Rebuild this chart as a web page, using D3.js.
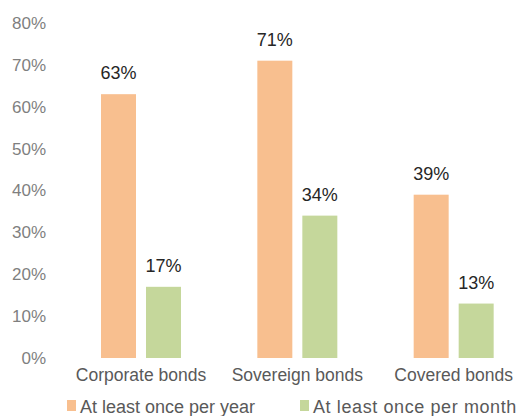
<!DOCTYPE html>
<html><head><meta charset="utf-8">
<script src="https://cdn.jsdelivr.net/npm/d3@7"></script>
<style>body{margin:0;background:#fff;}svg{display:block;font-family:"Liberation Sans",Arial,sans-serif;}</style>
</head><body>
<svg id="c" width="517" height="416"></svg>
<script>
const categories = ["Corporate bonds", "Sovereign bonds", "Covered bonds"];
const seriesNames = ["At least once per year", "At least once per month"];
const yearly = [63, 71, 39];
const monthly = [17, 34, 13];
const yTicks = [0, 10, 20, 30, 40, 50, 60, 70, 80];
const colors = ["#F8BF8F", "#C5D79B"];

const svg = d3.select("#c");
const y = d3.scaleLinear().domain([0, 80]).range([358, 23]);
const x = d3.scaleBand().domain(categories).range([63, 532]).padding(0);
const xi = d3.scaleBand().domain(seriesNames).range([38, 118]).paddingInner(10/45).paddingOuter(0);
const values = [yearly, monthly];

const yAxis = d3.axisLeft(y).tickValues(yTicks).tickFormat(d => d + "%").tickSize(0).tickPadding(0);
const ga = svg.append("g").attr("transform", "translate(46,0)").call(yAxis);
ga.select(".domain").remove();
ga.selectAll("text").attr("fill", "#7f7f7f").attr("font-size", 17).attr("font-family", "'Liberation Sans',Arial,sans-serif");

const groups = svg.selectAll("g.grp").data(categories).enter().append("g")
  .attr("class", "grp").attr("transform", d => `translate(${x(d)},0)`);
seriesNames.forEach((s, si) => {
  groups.append("rect")
    .attr("x", xi(s)).attr("width", xi.bandwidth())
    .attr("y", (d, i) => y(values[si][i]))
    .attr("height", (d, i) => y(0) - y(values[si][i]))
    .attr("fill", colors[si]);
  groups.append("text")
    .attr("x", xi(s) + xi.bandwidth() / 2)
    .attr("y", (d, i) => y(values[si][i]) - 15)
    .attr("text-anchor", "middle").attr("font-size", 18).attr("fill", "#262626")
    .attr("font-family", "'Liberation Sans',Arial,sans-serif")
    .text((d, i) => values[si][i] + "%");
});

const xAxis = d3.axisBottom(x).tickSize(0).tickPadding(0);
const gx = svg.append("g").attr("transform", "translate(0,0)").call(xAxis);
gx.select(".domain").remove();
gx.selectAll("text").attr("fill", "#595959").attr("font-size", 17.5).attr("dy", null)
  .attr("y", 381)
  .attr("font-family", "'Liberation Sans',Arial,sans-serif")
  .attr("x", 0);
gx.selectAll(".tick").attr("transform", d => `translate(${x(d) + 78},0)`);

const legX = [67, 300];
const legSpacing = [0, 0.6];
const lg = svg.selectAll("g.leg").data(seriesNames).enter().append("g")
  .attr("class", "leg").attr("transform", (d, i) => `translate(${legX[i]},400)`);
lg.append("rect").attr("x", 0).attr("y", 0).attr("width", 9).attr("height", 11).attr("fill", (d, i) => colors[i]);
lg.append("text").attr("x", 13).attr("y", 13).attr("font-size", 18).attr("fill", "#595959")
  .attr("letter-spacing", (d, i) => legSpacing[i]).text(d => d);
</script>
</body></html>
